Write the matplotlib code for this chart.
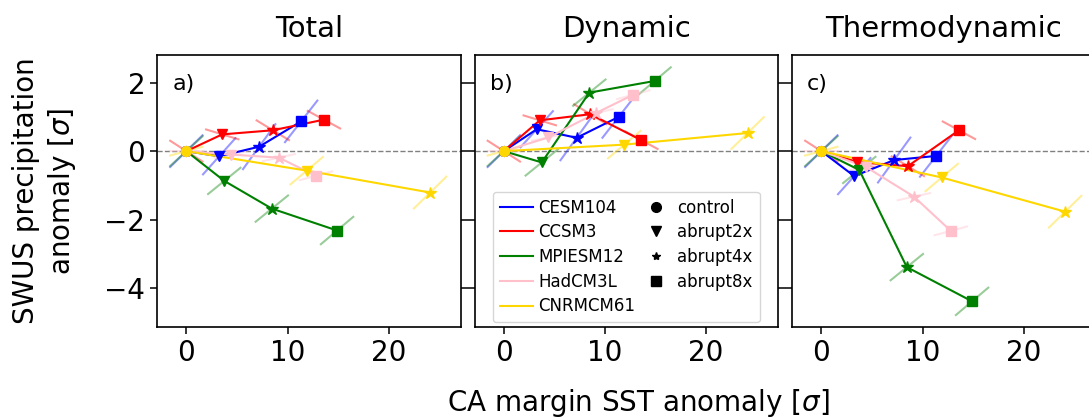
import numpy as np
import matplotlib
matplotlib.use("Agg")
import matplotlib.pyplot as plt
from matplotlib.lines import Line2D

models = ['CESM104', 'CCSM3', 'MPIESM12', 'HadCM3L', 'CNRMCM61']
colors = ['blue', 'red', 'green', 'pink', 'gold']
runs = ['control', 'abrupt2x', 'abrupt4x', 'abrupt8x']
markers = ['o', 'v', '*', 's']

# CA margin SST anomaly per run (control, 2x, 4x, 8x)
sst_cesm = [0, 3.25, 7.2, 11.35]
sst_ccsm = [0, 3.55, 8.55, 13.6]
sst_mpi = [0, 3.75, 8.45, 14.9]
sst_had = [0, 4.4, 9.15, 12.8]
sst_cnrm = [0, 11.9, 24.1]

# SWUS precip anomaly : total
tot_cesm = [0, -0.15, 0.13, 0.87]
tot_ccsm = [0, 0.49, 0.61, 0.92]
tot_mpi = [0, -0.87, -1.68, -2.32]
tot_had = [0, -0.1, -0.19, -0.72]
tot_cnrm = [0, -0.57, -1.21]

# dynamic part
dyn_cesm = [0, 0.64, 0.39, 1.0]
dyn_ccsm = [0, 0.9, 1.08, 0.32]
dyn_mpi = [0, -0.33, 1.71, 2.05]
dyn_had = [0, 0.4, 1.12, 1.65]
dyn_cnrm = [0, 0.19, 0.53]

# thermodynamic part
thm_cesm = [0, -0.73, -0.26, -0.14]
thm_ccsm = [0, -0.32, -0.44, 0.61]
thm_mpi = [0, -0.55, -3.39, -4.39]
thm_had = [0, -0.46, -1.33, -2.33]
thm_cnrm = [0, -0.77, -1.77]

# regression slope (precip vs sst) inside each run
slope_cesm = [0.29, 0.33, 0.41, 0.38]
slope_ccsm = [-0.19, -0.09, -0.18, -0.16]
slope_mpi = [0.27, 0.24, 0.24, 0.25]
slope_had = [0.0, 0.06, 0.065, 0.08]
slope_cnrm = [0.08, 0.25, 0.29]

sst = [sst_cesm, sst_ccsm, sst_mpi, sst_had, sst_cnrm]
slopes = [slope_cesm, slope_ccsm, slope_mpi, slope_had, slope_cnrm]
panels = [
    ('Total', 'a)', [tot_cesm, tot_ccsm, tot_mpi, tot_had, tot_cnrm]),
    ('Dynamic', 'b)', [dyn_cesm, dyn_ccsm, dyn_mpi, dyn_had, dyn_cnrm]),
    ('Thermodynamic', 'c)', [thm_cesm, thm_ccsm, thm_mpi, thm_had, thm_cnrm]),
]
half = 1.6  # half length of the slope bars, in sst units

W, H = 1089, 419
fig = plt.figure(figsize=(W / 100, H / 100), dpi=100)
lefts = [157, 474.5, 792]
axw, top, bot = 303.5, 55, 327

for k, (title, letter, precip) in enumerate(panels):
    ax = fig.add_axes([lefts[k] / W, (H - bot) / H, axw / W, (bot - top) / H])
    ax.axhline(0, color='gray', ls='--', lw=1, zorder=1)
    for m in range(len(models)):
        x = np.array(sst[m])
        y = np.array(precip[m])
        s = np.array(slopes[m])
        for i in range(len(x)):
            ax.plot([x[i] - half, x[i] + half], [y[i] - s[i] * half, y[i] + s[i] * half],
                    color=colors[m], alpha=0.4, lw=1.5, zorder=2)
        ax.plot(x, y, color=colors[m], lw=1.5, zorder=3)
        for i in range(len(x)):
            ms = 9 if markers[i] == '*' else 7
            ax.plot(x[i], y[i], marker=markers[i], color=colors[m], ms=ms, ls='none', zorder=4)
    ax.set_xlim(-2.9, 27.1)
    ax.set_ylim(-5.14, 2.81)
    ax.set_xticks([0, 10, 20])
    ax.set_yticks([-4, -2, 0, 2])
    ax.tick_params(labelsize=20, length=5, width=1.1, right=True)
    if k > 0:
        ax.tick_params(labelleft=False)
    for sp in ax.spines.values():
        sp.set_linewidth(1.2)
    ax.set_title(title, fontsize=21, pad=13)
    ax.text(0.05, 0.93, letter, transform=ax.transAxes, fontsize=16, va='top', ha='left')
    if k == 1:
        handles = [Line2D([], [], color=c, lw=1.5) for c in colors]
        handles += [Line2D([], [], color='black', marker=mk, ls='none',
                           ms=6 if mk == '*' else 7) for mk in markers]
        ax.legend(handles, models + runs, ncol=2, loc='lower center', fontsize=12,
                  handlelength=2.0, handletextpad=0.3, columnspacing=0.25,
                  labelspacing=0.4, borderaxespad=0.3)

fig.text(638 / W, 1 - 403 / H, r'CA margin SST anomaly [$\sigma$]', fontsize=20,
         ha='center', va='center')
fig.text(45 / W, 1 - 191 / H, 'SWUS precipitation\nanomaly [$\\sigma$]', fontsize=20,
         ha='center', va='center', rotation=90, multialignment='center', linespacing=1.25)

fig.savefig('out.png', dpi=100)
